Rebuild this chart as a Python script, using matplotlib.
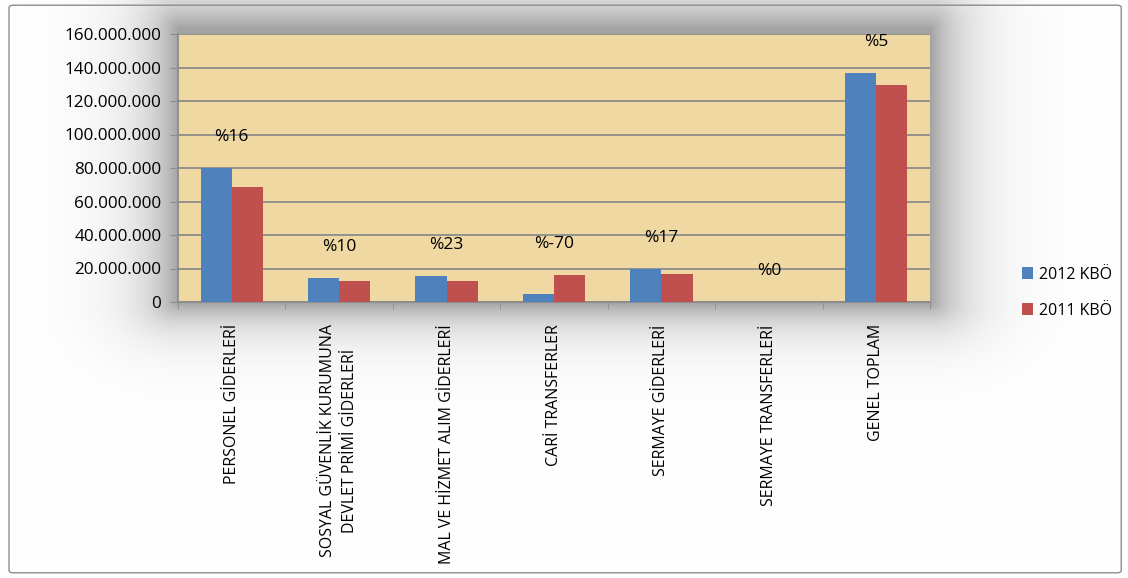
import numpy as np
import matplotlib
matplotlib.use('Agg')
import matplotlib.pyplot as plt
from matplotlib.patches import FancyBboxPatch
from matplotlib.ticker import FuncFormatter

plt.rcParams['font.family'] = ['Open Sans', 'DejaVu Sans']

categories = ['PERSONEL GİDERLERİ',
              'SOSYAL GÜVENLİK KURUMUNA\nDEVLET PRİMİ GİDERLERİ',
              'MAL VE HİZMET ALIM GİDERLERİ',
              'CARİ TRANSFERLER',
              'SERMAYE GİDERLERİ',
              'SERMAYE TRANSFERLERİ',
              'GENEL TOPLAM']
kbo_2012 = [80_000_000, 14_300_000, 15_600_000, 4_800_000, 19_700_000, 0, 136_700_000]
kbo_2011 = [68_800_000, 12_800_000, 12_700_000, 16_100_000, 16_800_000, 0, 129_800_000]
change_labels = ['%16', '%10', '%23', '%-70', '%17', '%0', '%5']

W, H = 1128, 578
fig = plt.figure(figsize=(W / 100, H / 100), dpi=100)
fig.patch.set_facecolor('white')

# plot area in pixels
px0, px1, py0, py1 = 178, 930, 34, 302

# soft shadow behind the plot area (background image)
bg = fig.add_axes([0, 0, 1, 1], zorder=-1)
bg.axis('off')
X, Y = np.meshgrid(np.arange(W), np.arange(H))
dx = np.maximum(np.maximum(px0 - X, 0), X - px1)
dy_top = np.maximum(py0 - 6 - Y, 0)
dy_bot = np.maximum(Y - py1, 0)
d = np.sqrt(dx ** 2 + (dy_top + dy_bot * 1.4) ** 2)
shade = 0.36 * np.exp(-d / 34.0)
img = np.ones((H, W, 3)) * (1 - shade[..., None])
bg.imshow(img, extent=[0, W, H, 0], aspect='auto', interpolation='bilinear')
bg.set_xlim(0, W)
bg.set_ylim(H, 0)

# outer chart border
fig.patches.append(FancyBboxPatch((0.008, 0.009), 0.986, 0.982,
                                  boxstyle='round,pad=0,rounding_size=0.004',
                                  transform=fig.transFigure, facecolor='none',
                                  edgecolor='#8c8c8c', linewidth=1.0, zorder=5))

ax = fig.add_axes([px0 / W, 1 - py1 / H, (px1 - px0) / W, (py1 - py0) / H], zorder=2)
ax.set_facecolor('#efd8a2')

x = np.arange(len(categories))
w = 0.29
ax.bar(x - w / 2, kbo_2012, w, color='#4f81bd', label='2012 KBÖ', zorder=3)
ax.bar(x + w / 2, kbo_2011, w, color='#c0504d', label='2011 KBÖ', zorder=3)

for xi, a, b, lab in zip(x, kbo_2012, kbo_2011, change_labels):
    ax.annotate(lab, (xi, max(a, b)), xytext=(0, 22), textcoords='offset points',
                ha='center', va='center', fontsize=12.5, color='black')

ax.set_xlim(-0.5, len(categories) - 0.5)
ax.set_ylim(0, 160_000_000)
ax.set_yticks(np.arange(0, 160_000_001, 20_000_000))
ax.yaxis.set_major_formatter(FuncFormatter(lambda v, p: f'{int(v):,}'.replace(',', '.')))
ax.grid(axis='y', color='#8c8c8c', linewidth=1.3, zorder=1)
ax.set_axisbelow(True)

ax.set_xticks(x)
ax.set_xticklabels(categories, rotation=90, ha='center', va='top', fontsize=11.5,
                   multialignment='center', linespacing=1.55)
ax.set_xticks(np.arange(-0.5, len(categories)), minor=True)
ax.tick_params(axis='x', which='major', length=0, pad=16)
ax.tick_params(axis='x', which='minor', length=5, color='#8c8c8c')
ax.tick_params(axis='y', length=6, color='#8c8c8c', labelsize=12.3, pad=6)

for side in ['top', 'right']:
    ax.spines[side].set_visible(False)
for side in ['left', 'bottom']:
    ax.spines[side].set_color('#8c8c8c')
    ax.spines[side].set_linewidth(1.3)

ax.legend(loc='center left', bbox_to_anchor=(1.103, 0.035), frameon=False,
          fontsize=11.5, handlelength=0.7, handleheight=0.7, labelspacing=1.25,
          handletextpad=0.4)

fig.savefig('out.png', dpi=100)
